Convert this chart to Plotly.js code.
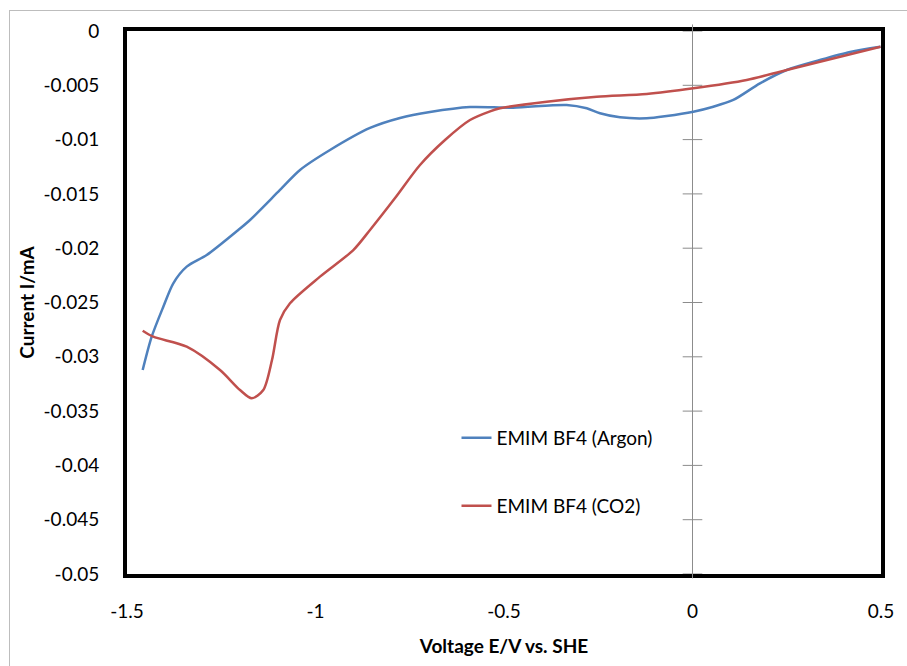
<!DOCTYPE html>
<html>
<head>
<meta charset="utf-8">
<script src="https://cdn.plot.ly/plotly-3.0.1.min.js"></script>
<style>
html,body{margin:0;padding:0;background:#fff;}
#wrap{position:relative;width:907px;height:666px;}
#chart{width:907px;height:666px;}
#frame{position:absolute;left:9px;top:10px;width:910px;height:670px;border-left:1px solid #bdbdbd;border-top:1px solid #bdbdbd;pointer-events:none;}
</style>
</head>
<body>
<div id="wrap"><div id="chart"></div><div id="frame"></div></div>
<script>
// Argon curve (voltage V vs SHE, current mA)
const argonV = [-1.4584,-1.4345,-1.4037,-1.3772,-1.3416,-1.2886,-1.2048,-1.1737,-1.0942,-1.0411,-0.9615,-0.8554,-0.7759,-0.6963,-0.5902,-0.4761,-0.3337,-0.2806,-0.2454,-0.1923,-0.1215,-0.0684,0.0021,0.0552,0.1082,0.1790,0.2499,0.338,0.418,0.4987];
const argonI = [-0.03122,-0.02815,-0.02539,-0.02323,-0.02170,-0.02063,-0.01832,-0.01740,-0.01464,-0.01280,-0.01096,-0.00893,-0.00801,-0.00746,-0.00700,-0.00706,-0.00681,-0.00712,-0.00758,-0.00795,-0.00804,-0.00783,-0.00743,-0.00697,-0.00635,-0.00482,-0.00359,-0.00267,-0.00193,-0.00145];
// CO2 curve
const co2V = [-1.4584,-1.4302,-1.3416,-1.2533,-1.2003,-1.1692,-1.1385,-1.1154,-1.0942,-1.0676,-0.9881,-0.8997,-0.8554,-0.789,-0.7228,-0.6565,-0.5902,-0.537,-0.5106,-0.3867,-0.2541,-0.1215,0.0021,0.1438,0.2499,0.4987];
const co2I = [-0.02760,-0.02815,-0.02907,-0.03122,-0.03306,-0.03382,-0.03306,-0.0303,-0.02661,-0.02507,-0.02262,-0.02017,-0.01832,-0.01538,-0.01234,-0.01004,-0.00820,-0.00740,-0.00712,-0.00651,-0.00605,-0.00580,-0.00528,-0.00451,-0.00359,-0.00145];

const yTicks = [0,-0.005,-0.01,-0.015,-0.02,-0.025,-0.03,-0.035,-0.04,-0.045,-0.05];
const yTickText = ['0','-0.005','-0.01','-0.015','-0.02','-0.025','-0.03','-0.035','-0.04','-0.045','-0.05'];
const xTicks = [-1.5,-1,-0.5,0,0.5];
const xTickText = ['-1.5','-1','-0.5','0','0.5'];
const seriesNames = ['EMIM BF4 (Argon)','EMIM BF4 (CO2)'];

const FONT = 'Lato, "Open Sans", sans-serif';
const FS = 19;

const traces = [
  {x: yTicks.map(()=>0), y: yTicks, mode:'markers', showlegend:false, hoverinfo:'skip', cliponaxis:false,
   marker:{symbol:'line-ew', size:14, line:{color:'#8c8c8c', width:1}}},
  {x: argonV, y: argonI, mode:'lines', name: seriesNames[0], line:{color:'#4F81BD', width:2.5, shape:'spline', smoothing:0.8}, legend:'legend'},
  {x: co2V, y: co2I, mode:'lines', name: seriesNames[1], line:{color:'#C0504D', width:2.5, shape:'spline', smoothing:0.8}, legend:'legend2'}
];

const layout = {
  width: 907, height: 666,
  margin: {l:127, r:26, t:31, b:92},
  paper_bgcolor:'#fff', plot_bgcolor:'#fff',
  font:{family:FONT, size:FS, color:'#000'},
  showlegend:true,
  xaxis:{
    range:[-1.5,0.5], tickvals:xTicks, ticktext:xTickText,
    showgrid:false, zeroline:true, zerolinecolor:'#8c8c8c', zerolinewidth:1,
    showline:true, mirror:true, linecolor:'#000', linewidth:4,
    ticks:'outside', ticklen:17, tickcolor:'rgba(0,0,0,0)',
    tickfont:{family:FONT, size:FS, color:'#000'},
    title:{text:'<b>Voltage E/V vs. SHE</b>', font:{family:FONT, size:FS, color:'#000'}, standoff:20}
  },
  yaxis:{
    range:[-0.05,0], tickvals:yTicks, ticktext:yTickText,
    showgrid:false, zeroline:false,
    showline:true, mirror:true, linecolor:'#000', linewidth:4,
    ticks:'outside', ticklen:20, tickcolor:'rgba(0,0,0,0)',
    tickfont:{family:FONT, size:FS, color:'#000'},
    title:{text:'<b>Current I/mA</b>', font:{family:FONT, size:FS, color:'#000'}, standoff:5}
  },
  legend:{x:0.437, y:1 - (438-31)/543, xanchor:'left', yanchor:'middle', bgcolor:'rgba(0,0,0,0)', font:{family:FONT,size:FS}, itemwidth:30},
  legend2:{x:0.437, y:1 - (506-31)/543, xanchor:'left', yanchor:'middle', bgcolor:'rgba(0,0,0,0)', font:{family:FONT,size:FS}, itemwidth:30},
  shapes:[
    {type:'line', xref:'x', yref:'paper', x0:0, x1:0, y0:1, y1:1.012, line:{color:'#8c8c8c', width:1}},
    {type:'line', xref:'x', yref:'paper', x0:0, x1:0, y0:0, y1:-0.008, line:{color:'#8c8c8c', width:1}}
  ]
};

Plotly.newPlot('chart', traces, layout, {staticPlot:true, displayModeBar:false});
</script>
</body>
</html>
